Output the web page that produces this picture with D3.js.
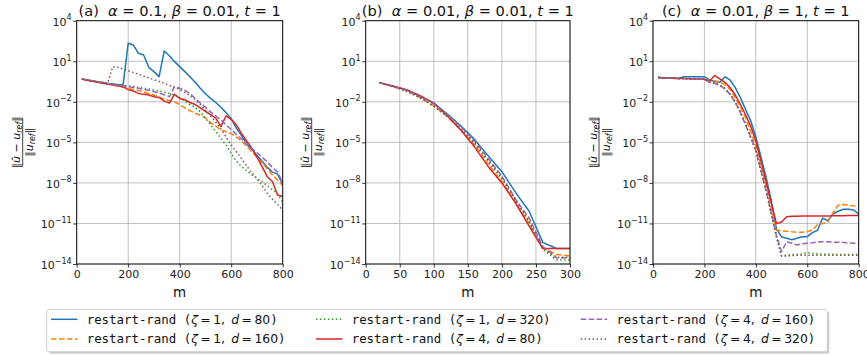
<!DOCTYPE html>
<html>
<head>
<meta charset="utf-8">
<script src="https://cdn.jsdelivr.net/npm/d3@7"></script>
<style>
  body { margin: 0; background: #fff; }
  text { font-family: "DejaVu Sans", sans-serif; white-space: pre; }
</style>
</head>
<body>
<svg id="chart" width="867" height="355"></svg>
<script>
// m values (x axis)
const mLong = [20, 40, 60, 80, 100, 120, 140, 160, 180, 200, 220, 240, 260, 280, 300, 320, 340, 360, 380, 400,
  420, 440, 460, 480, 500, 520, 540, 560, 580, 600, 620, 640, 660, 680, 700, 720, 740, 760, 780, 800];
const mShort = [20, 40, 60, 80, 100, 120, 140, 160, 180, 200, 220, 240, 260, 280, 300];

// series legend values
const zetaVals = [1, 1, 1, 4, 4, 4];
const dVals = [80, 160, 320, 80, 160, 320];

// log10 of relative error
// panel (a)  alpha=0.1, beta=0.01
const aZ1D80 = [-0.31, -0.38, -0.45, -0.52, -0.58, -0.64, -0.68, -0.72, -0.76, 2.33, 2.2, 1.59, 1.46, 0.55, 0.23, -0.14, 1.76, 1.41, 0.97, 0.6,
  0.23, -0.15, -0.55, -1.0, -1.4, -1.75, -2.05, -2.4, -2.8, -3.25, -3.95, -4.5, -5.15, -5.5, -5.95, -6.4, -6.85, -7.2, -7.35, -8.1];
const aZ1D160 = [-0.31, -0.38, -0.45, -0.52, -0.6, -0.68, -0.76, -0.85, -0.92, -1.0, -1.08, -1.16, -1.26, -1.38, -1.5, -1.65, -1.8, -1.92, -2.0, -2.2,
  -2.45, -2.65, -2.85, -3.0, -3.2, -3.55, -3.8, -4.1, -4.2, -4.35, -4.6, -4.9, -5.3, -5.7, -6.1, -6.5, -6.95, -7.4, -7.8, -8.2];
const aZ1D320 = [-0.31, -0.38, -0.45, -0.52, -0.58, -0.65, -0.7, -0.75, -0.78, -0.82, -0.87, -0.92, -0.98, -1.05, -1.12, -1.2, -1.28, -1.38, -1.5, -1.7,
  -1.95, -2.2, -2.4, -2.75, -3.2, -3.7, -4.2, -4.7, -5.2, -5.8, -6.4, -6.8, -7.1, -7.4, -7.65, -7.9, -8.2, -8.5, -8.8, -9.4];
const aZ4D80 = [-0.31, -0.4, -0.48, -0.56, -0.62, -0.68, -0.75, -0.82, -0.88, -1.1, -1.2, -1.38, -1.45, -1.5, -1.62, -1.68, -1.95, -2.1, -1.44, -1.75,
  -1.85, -2.05, -2.2, -2.45, -2.7, -2.95, -3.2, -3.84, -3.05, -3.3, -3.7, -4.33, -4.9, -5.44, -6.1, -6.8, -7.54, -7.9, -8.9, -9.0];
const aZ4D160 = [-0.31, -0.38, -0.45, -0.52, -0.58, -0.65, -0.72, -0.78, -0.82, -0.88, -0.94, -1.0, -1.08, -1.15, -1.25, -1.35, -1.48, -1.62, -0.88, -1.0,
  -1.15, -1.4, -1.75, -2.1, -2.4, -2.75, -3.05, -3.35, -3.7, -4.05, -4.4, -4.75, -5.1, -5.45, -5.75, -6.1, -6.45, -6.85, -7.2, -8.0];
const aZ4D320 = [-0.31, -0.38, -0.45, -0.52, -0.58, -0.62, 0.6, 0.55, 0.43, 0.3, 0.17, 0.04, -0.1, -0.23, -0.37, -0.5, -0.63, -0.78, -0.93, -1.1,
  -1.3, -1.55, -1.85, -2.2, -2.6, -3.05, -3.5, -4.0, -4.6, -5.2, -5.7, -6.2, -6.75, -7.25, -7.7, -8.2, -8.75, -9.2, -9.6, -10.0];

// panel (b)  alpha=0.01, beta=0.01
const bZ1D80 = [-0.58, -0.85, -1.12, -1.6, -2.1, -2.9, -3.8, -4.8, -6.0, -7.17, -8.7, -10.1, -12.4, -12.85, -12.85];
const bZ1D160 = [-0.58, -0.87, -1.18, -1.7, -2.3, -3.1, -4.1, -5.2, -6.6, -7.9, -9.4, -11.0, -12.8, -13.3, -13.4];
const bZ1D320 = [-0.58, -0.88, -1.2, -1.72, -2.35, -3.1, -4.0, -5.1, -6.4, -7.7, -9.2, -10.9, -12.9, -13.7, -13.7];
const bZ4D80 = [-0.58, -0.83, -1.1, -1.55, -2.1, -3.05, -4.1, -5.35, -6.8, -8.0, -9.5, -11.2, -12.86, -12.86, -12.86];
const bZ4D160 = [-0.58, -0.85, -1.13, -1.62, -2.15, -2.95, -3.85, -4.9, -6.2, -7.5, -9.2, -10.6, -12.7, -13.55, -13.55];
const bZ4D320 = [-0.58, -0.88, -1.2, -1.7, -2.3, -3.05, -4.0, -5.0, -6.35, -7.6, -9.3, -10.8, -12.8, -13.5, -13.5];

// panel (c)  alpha=0.01, beta=1
const cZ1D80 = [-0.21, -0.22, -0.24, -0.25, -0.27, -0.15, -0.14, -0.14, -0.14, -0.15, -0.38, -0.5, -0.56, -0.14, -0.39, -0.95, -1.7, -2.56, -3.4, -4.6,
  -6.1, -7.6, -9.3, -11.4, -12.0, -12.1, -12.2, -12.1, -11.98, -11.98, -11.68, -11.5, -10.6, -10.8, -10.3, -10.1, -9.95, -9.95, -10.0, -10.3];
const cZ1D160 = [-0.21, -0.22, -0.24, -0.25, -0.27, -0.28, -0.29, -0.31, -0.32, -0.34, -0.45, -0.45, -0.55, -0.72, -1.1, -1.7, -2.4, -3.2, -4.2, -5.3,
  -6.8, -8.2, -9.9, -11.5, -11.55, -11.58, -11.62, -11.65, -11.65, -11.6, -11.5, -11.1, -11.0, -10.9, -10.2, -9.65, -9.6, -9.65, -9.7, -9.7];
const cZ1D320 = [-0.21, -0.22, -0.24, -0.25, -0.27, -0.28, -0.29, -0.31, -0.32, -0.34, -0.55, -0.62, -0.78, -1.02, -1.42, -2.0, -2.75, -3.65, -4.65, -5.6,
  -7.1, -8.6, -10.3, -12.0, -13.4, -13.35, -13.3, -13.28, -13.25, -13.15, -13.22, -13.25, -13.28, -13.28, -13.28, -13.3, -13.3, -13.3, -13.3, -13.3];
const cZ4D80 = [-0.21, -0.22, -0.24, -0.25, -0.27, -0.28, -0.29, -0.31, -0.32, -0.34, -0.48, -0.06, -0.31, -0.56, -0.95, -1.5, -2.2, -2.96, -3.8, -4.9,
  -6.4, -7.9, -9.5, -11.0, -10.9, -10.5, -10.47, -10.46, -10.45, -10.45, -10.45, -10.44, -10.44, -10.44, -10.43, -10.43, -10.43, -10.42, -10.42, -10.42];
const cZ4D160 = [-0.21, -0.22, -0.24, -0.25, -0.27, -0.28, -0.29, -0.31, -0.32, -0.34, -0.55, -0.63, -0.8, -1.05, -1.45, -2.05, -2.8, -3.7, -4.6, -5.6,
  -7.1, -8.6, -10.2, -11.9, -13.08, -12.35, -12.46, -12.6, -12.5, -12.46, -12.42, -12.37, -12.35, -12.35, -12.38, -12.4, -12.4, -12.45, -12.46, -12.46];
const cZ4D320 = [-0.21, -0.22, -0.24, -0.25, -0.27, -0.28, -0.29, -0.31, -0.32, -0.34, -0.55, -0.62, -0.78, -1.03, -1.43, -2.02, -2.78, -3.68, -4.65, -5.6,
  -7.1, -8.6, -10.3, -11.95, -13.42, -13.4, -13.38, -13.36, -13.35, -13.35, -13.35, -13.35, -13.35, -13.35, -13.35, -13.35, -13.35, -13.35, -13.35, -13.35];

const yTickExps = [4, 1, -2, -5, -8, -11, -14];
const xTicksLong = [0, 200, 400, 600, 800];
const xTicksShort = [0, 50, 100, 150, 200, 250, 300];

// styles (tab10)
const colors = ["#1f77b4", "#ff7f0e", "#2ca02c", "#d62728", "#9467bd", "#8c564b"];
const dashes = [null, "5.55,2.4", "1.5,2.475", null, "5.55,2.4", "1.5,2.475"];

const svg = d3.select("#chart");
svg.append("rect").attr("width", 867).attr("height", 355).attr("fill", "#fff");

const plotTop = 20.7, plotBottom = 264;
const y = d3.scaleLog().domain([1e-14, 1e4]).range([plotBottom, plotTop]);

const panels = [
  { tag: "(a)", alpha: "0.1", beta: "0.01", left: 76.7, right: 282.7, xMax: 800, xTicks: xTicksLong, m: mLong,
    series: [aZ1D80, aZ1D160, aZ1D320, aZ4D80, aZ4D160, aZ4D320] },
  { tag: "(b)", alpha: "0.01", beta: "0.01", left: 365.7, right: 570, xMax: 300, xTicks: xTicksShort, m: mShort,
    series: [bZ1D80, bZ1D160, bZ1D320, bZ4D80, bZ4D160, bZ4D320] },
  { tag: "(c)", alpha: "0.01", beta: "1", left: 653, right: 858.7, xMax: 800, xTicks: xTicksLong, m: mLong,
    series: [cZ1D80, cZ1D160, cZ1D320, cZ4D80, cZ4D160, cZ4D320] }
];

panels.forEach((p, pi) => {
  const x = d3.scaleLinear().domain([0, p.xMax]).range([p.left, p.right]);
  const g = svg.append("g");

  // grid
  g.selectAll(".vg").data(p.xTicks).join("line")
    .attr("x1", d => x(d)).attr("x2", d => x(d))
    .attr("y1", plotTop).attr("y2", plotBottom)
    .attr("stroke", "#b0b0b0").attr("stroke-width", 0.8);
  g.selectAll(".hg").data(yTickExps).join("line")
    .attr("x1", p.left).attr("x2", p.right)
    .attr("y1", d => y(Math.pow(10, d))).attr("y2", d => y(Math.pow(10, d)))
    .attr("stroke", "#b0b0b0").attr("stroke-width", 0.8);

  // lines
  const clipId = "clip" + pi;
  svg.append("clipPath").attr("id", clipId).append("rect")
    .attr("x", p.left).attr("y", plotTop).attr("width", p.right - p.left).attr("height", plotBottom - plotTop);
  const line = d3.line().x(d => x(d[0])).y(d => y(d[1]));
  g.append("g").attr("clip-path", `url(#${clipId})`)
    .selectAll("path").data(p.series).join("path")
    .attr("d", s => line(s.map((v, i) => [p.m[i], Math.pow(10, v)])))
    .attr("fill", "none")
    .attr("stroke", (s, i) => colors[i])
    .attr("stroke-width", 1.5)
    .attr("stroke-linejoin", "round")
    .attr("stroke-dasharray", (s, i) => dashes[i]);

  // x axis
  const xAxis = d3.axisBottom(x).tickValues(p.xTicks).tickSize(3.5).tickSizeOuter(0).tickPadding(2.5);
  const xg = g.append("g").attr("transform", `translate(0,${plotBottom})`).call(xAxis);
  xg.select(".domain").remove();
  xg.selectAll("line").attr("stroke", "#000").attr("stroke-width", 0.8);
  xg.selectAll("text").attr("font-size", 11).attr("font-family", "DejaVu Sans").attr("fill", "#222");

  // y axis with superscript labels
  const yAxis = d3.axisLeft(y).tickValues(yTickExps.map(e => Math.pow(10, e))).tickSize(3.5).tickSizeOuter(0).tickFormat(() => "");
  const yg = g.append("g").attr("transform", `translate(${p.left},0)`).call(yAxis);
  yg.select(".domain").remove();
  yg.selectAll("line").attr("stroke", "#000").attr("stroke-width", 0.8);
  yg.selectAll(".tick text").remove();
  yg.selectAll(".tick").each(function (d) {
    const e = Math.round(Math.log10(d));
    const t = d3.select(this).append("text")
      .attr("x", -5).attr("y", 4.5)
      .attr("text-anchor", "end").attr("fill", "#222").attr("font-size", 11);
    t.append("tspan").text("10");
    t.append("tspan").attr("dy", -5.5).attr("font-size", 8).text(String(e).replace("-", "\u2212"));
  });

  // frame
  g.append("rect").attr("x", p.left).attr("y", plotTop)
    .attr("width", p.right - p.left).attr("height", plotBottom - plotTop)
    .attr("fill", "none").attr("stroke", "#000").attr("stroke-width", 0.9);

  // title
  const cx = (p.left + p.right) / 2;
  const title = g.append("text").attr("x", cx).attr("y", 15.5).attr("text-anchor", "middle")
    .attr("font-size", 14.6).attr("fill", "#111");
  title.append("tspan").text(p.tag + "  ");
  title.append("tspan").attr("font-style", "italic").text("\u03b1");
  title.append("tspan").text(" = " + p.alpha + ", ");
  title.append("tspan").attr("font-style", "italic").text("\u03b2");
  title.append("tspan").text(" = " + p.beta + ", ");
  title.append("tspan").attr("font-style", "italic").text("t");
  title.append("tspan").text(" = 1");

  // x label
  g.append("text").attr("x", cx).attr("y", 297).attr("text-anchor", "middle")
    .attr("font-size", 13.5).attr("fill", "#111").text("m");

  // y label (fraction)
  const yl = g.append("g").attr("transform", `translate(${p.left - 54},${(plotTop + plotBottom) / 2}) rotate(-90)`);
  const num = yl.append("text").attr("x", 0).attr("y", -2.5).attr("text-anchor", "middle")
    .attr("font-size", 11).attr("fill", "#111");
  num.append("tspan").text("\u2016");
  num.append("tspan").attr("font-style", "italic").text("\u00fb");
  num.append("tspan").text(" \u2212 ");
  num.append("tspan").attr("font-style", "italic").text("u");
  num.append("tspan").attr("font-style", "italic").attr("font-size", 8).attr("dy", 2).text("ref");
  num.append("tspan").attr("dy", -2).text("\u2016");
  yl.append("line").attr("x1", -24).attr("x2", 24).attr("y1", 0).attr("y2", 0)
    .attr("stroke", "#111").attr("stroke-width", 0.8);
  const den = yl.append("text").attr("x", 0).attr("y", 10.5).attr("text-anchor", "middle")
    .attr("font-size", 11).attr("fill", "#111");
  den.append("tspan").text("\u2016");
  den.append("tspan").attr("font-style", "italic").text("u");
  den.append("tspan").attr("font-style", "italic").attr("font-size", 8).attr("dy", 2).text("ref");
  den.append("tspan").attr("dy", -2).text("\u2016");
});

// legend
const lg = svg.append("g");
lg.append("rect").attr("x", 48.7).attr("y", 311.3).attr("width", 780.6).attr("height", 42.4)
  .attr("rx", 2.5).attr("fill", "#999").attr("opacity", 0.5);
lg.append("rect").attr("x", 46.7).attr("y", 309.3).attr("width", 780.6).attr("height", 42.4)
  .attr("rx", 2.5).attr("fill", "#fff").attr("stroke", "#cccccc").attr("stroke-width", 0.9);

const colX = [51, 316, 580.7];
const rowY = [319.3, 339];
const items = lg.selectAll(".item").data(colors).join("g")
  .attr("transform", (c, i) => `translate(${colX[Math.floor(i / 2)]},${rowY[i % 2]})`);
items.append("line").attr("x1", 0).attr("x2", 26.5).attr("y1", 0).attr("y2", 0)
  .attr("stroke", c => c).attr("stroke-width", 1.5)
  .attr("stroke-dasharray", (c, i) => dashes[i]);
items.each(function (c, i) {
  const t = d3.select(this).append("text").attr("x", 35.7).attr("y", 4.4)
    .attr("font-size", 12.4).attr("fill", "#111");
  t.append("tspan").attr("font-family", "DejaVu Sans Mono").text("restart-rand (");
  t.append("tspan").attr("font-style", "italic").text("\u03b6");
  t.append("tspan").text("\u2009=\u2009" + zetaVals[i] + ",\u2002");
  t.append("tspan").attr("font-style", "italic").text("d");
  t.append("tspan").text("\u2009=\u2009" + dVals[i]);
  t.append("tspan").attr("font-family", "DejaVu Sans Mono").text(")");
});
</script>
</body>
</html>
